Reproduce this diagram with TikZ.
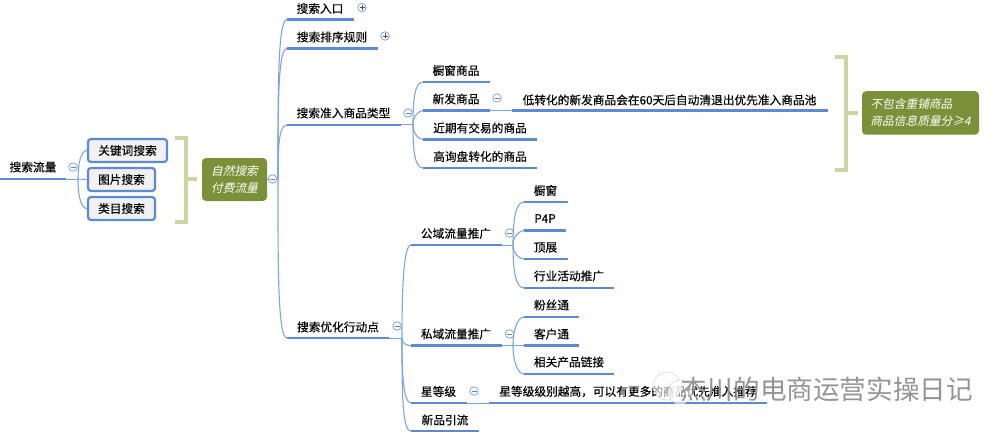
\documentclass[tikz,border=0pt]{standalone}
\usepackage{fontspec}
\setmainfont[FakeBold=.25]{Noto Sans CJK SC}
\newfontfamily\slantfont[FakeSlant=.22]{Noto Sans CJK SC}
\newfontfamily\markfont{Noto Sans CJK SC}
\definecolor{linecol}{HTML}{5B8BD3}
\definecolor{thincol}{HTML}{7CA5E2}
\definecolor{boxfill}{HTML}{F1F1F1}
\definecolor{notecol}{HTML}{7A9139}
\definecolor{bracecol}{HTML}{C8D8A0}
\tikzset{
  lab/.style={inner sep=0pt, font=\fontsize{11.7}{14}\selectfont},
  topicline/.style={draw=linecol, line width=2.8pt},
  thinline/.style={draw=thincol, line width=1pt},
  fork/.style={draw=thincol, line width=1.1pt},
  upcurve/.style={out=90, in=180, out looseness=1.4, in looseness=#1},
  downcurve/.style={out=-90, in=180, out looseness=1.4, in looseness=#1},
  tagbox/.style={draw=linecol, line width=2.2pt, fill=boxfill, rounded corners=3pt, inner sep=0pt, minimum height=23pt, font=\fontsize{11.7}{14}\selectfont},
  notebox/.style={fill=notecol, rounded corners=4pt, inner sep=0pt, text=white, font=\fontsize{11.7}{17}\slantfont},
  brace/.style={draw=bracecol, line width=4pt},
  toggle/.style={circle, draw=thincol, fill=white, line width=.8pt, minimum size=8.5pt, inner sep=0pt},
  minus/.style={draw=thincol!80!black, line width=.8pt},
  plus/.style={draw=black!70, line width=.7pt},
  logo/.style={circle, draw=black!15, fill=white, fill opacity=.6, line width=.6pt, inner sep=0pt}
}
\begin{document}
\begin{tikzpicture}[x=1pt, y=-1pt]
  \useasboundingbox (0, 0) rectangle (1006, 433);
  % left part
  \coordinate (flowL) at (0, 179);
  \coordinate (flowR) at (66, 179);
  \coordinate (flowFork) at (78, 179);
  \draw[topicline] (flowL) -- (flowR);
  \draw[thinline] (flowR) -- (flowFork);
  \node[lab] (flow) at (33, 167) {搜索流量};
  \node[tagbox, minimum width=79pt] (keyword) at (127.5, 150.5) {关键词搜索};
  \node[tagbox, minimum width=67pt] (image) at (121.5, 179.5) {图片搜索};
  \node[tagbox, minimum width=67pt] (category) at (121.5, 208.5) {类目搜索};
  \draw[fork] (flowFork) to[upcurve=.5] (keyword.west);
  \draw[fork] (flowFork) -- (image.west);
  \draw[fork] (flowFork) to[downcurve=.5] (category.west);
  \node[toggle] (flowT) at (73, 167) {};
  \draw[minus] ([xshift=-2.5pt]flowT.center) -- ([xshift=2.5pt]flowT.center);
  % first bracket
  \coordinate (brA) at (175, 138);
  \coordinate (brB) at (186, 138);
  \coordinate (brC) at (186, 222);
  \coordinate (brD) at (175, 222);
  \coordinate (brE) at (186, 179);
  \coordinate (brF) at (197, 179);
  \draw[brace] (brA) -- (brB) -- (brC) -- (brD);
  \draw[brace] (brE) -- (brF);
  \node[notebox, minimum width=65pt, minimum height=43pt, align=center] (natural) at (234.5, 179.5) {自然搜索\\付费流量};
  % trunk
  \coordinate (trunk) at (278, 179);
  \coordinate (entryL) at (287, 19.5);
  \coordinate (entryR) at (354, 19.5);
  \coordinate (rankL) at (287, 48.5);
  \coordinate (rankR) at (378, 48.5);
  \coordinate (typeL) at (287, 125);
  \coordinate (typeR) at (401, 125);
  \coordinate (optL) at (287, 338);
  \coordinate (optR) at (389, 338);
  \draw[fork] (natural.east) -- (trunk);
  \draw[fork] (trunk) to[upcurve=.15] (entryL);
  \draw[fork] (trunk) to[upcurve=.18] (rankL);
  \draw[fork] (trunk) to[upcurve=.4] (typeL);
  \draw[fork] (trunk) to[downcurve=.15] (optL);
  \draw[topicline] (entryL) -- (entryR);
  \draw[topicline] (rankL) -- (rankR);
  \draw[topicline] (typeL) -- (typeR);
  \draw[topicline] (optL) -- (optR);
  \node[lab] (entry) at (320, 8.5) {搜索入口};
  \node[lab] (rank) at (332, 37) {搜索排序规则};
  \node[lab] (type) at (343.5, 113) {搜索准入商品类型};
  \node[lab] (opt) at (338, 327) {搜索优化行动点};
  \node[toggle] (naturalT) at (272.5, 179) {};
  \draw[minus] ([xshift=-2.5pt]naturalT.center) -- ([xshift=2.5pt]naturalT.center);
  \node[toggle] (entryT) at (362, 7.5) {};
  \draw[plus] ([xshift=-2.5pt]entryT.center) -- ([xshift=2.5pt]entryT.center);
  \draw[plus] ([yshift=-2.5pt]entryT.center) -- ([yshift=2.5pt]entryT.center);
  \node[toggle] (rankT) at (385, 36) {};
  \draw[plus] ([xshift=-2.5pt]rankT.center) -- ([xshift=2.5pt]rankT.center);
  \draw[plus] ([yshift=-2.5pt]rankT.center) -- ([yshift=2.5pt]rankT.center);
  % goods types
  \coordinate (typeFork) at (413, 125);
  \coordinate (windowL) at (423, 82);
  \coordinate (windowR) at (490, 82);
  \coordinate (newL) at (423, 110.5);
  \coordinate (newR) at (490, 110.5);
  \coordinate (ruleL) at (512, 110.5);
  \coordinate (ruleR) at (828, 110.5);
  \coordinate (dealL) at (423, 139.5);
  \coordinate (dealR) at (537, 139.5);
  \coordinate (askL) at (423, 168);
  \coordinate (askR) at (537, 168);
  \draw[thinline] (typeR) -- (typeFork);
  \draw[fork] (typeFork) to[upcurve=.5] (windowL);
  \draw[fork] (typeFork) to[upcurve=.5] (newL);
  \draw[fork] (typeFork) to[downcurve=.5] (dealL);
  \draw[fork] (typeFork) to[downcurve=.5] (askL);
  \draw[thinline] (newR) -- (ruleL);
  \draw[topicline] (windowL) -- (windowR);
  \draw[topicline] (newL) -- (newR);
  \draw[topicline] (ruleL) -- (ruleR);
  \draw[topicline] (dealL) -- (dealR);
  \draw[topicline] (askL) -- (askR);
  \node[lab] (window) at (456, 70.5) {橱窗商品};
  \node[lab] (new) at (456, 99) {新发商品};
  \node[lab] (rule) at (669.5, 100) {低转化的新发商品会在60天后自动清退出优先准入商品池};
  \node[lab] (deal) at (480, 128) {近期有交易的商品};
  \node[lab] (ask) at (480, 156.5) {高询盘转化的商品};
  \node[toggle] (typeT) at (408, 113) {};
  \draw[minus] ([xshift=-2.5pt]typeT.center) -- ([xshift=2.5pt]typeT.center);
  \node[toggle] (newT) at (497, 98) {};
  \draw[minus] ([xshift=-2.5pt]newT.center) -- ([xshift=2.5pt]newT.center);
  % second bracket
  \coordinate (bsA) at (835, 57);
  \coordinate (bsB) at (846, 57);
  \coordinate (bsC) at (846, 170);
  \coordinate (bsD) at (835, 170);
  \coordinate (bsE) at (846, 113);
  \coordinate (bsF) at (858, 113);
  \draw[brace] (bsA) -- (bsB) -- (bsC) -- (bsD);
  \draw[brace] (bsE) -- (bsF);
  \node[notebox, minimum width=117pt, minimum height=43.5pt, align=left] (exclude) at (920.5, 113) {不包含重铺商品\\商品信息质量分≥4};
  % actions
  \coordinate (optFork) at (402, 338);
  \coordinate (pubL) at (411, 245);
  \coordinate (pubR) at (502, 245);
  \coordinate (priL) at (411, 345.5);
  \coordinate (priR) at (502, 345.5);
  \coordinate (starL) at (411, 403);
  \coordinate (starR) at (467, 403);
  \coordinate (tipL) at (489, 403);
  \coordinate (tipR) at (767, 403);
  \coordinate (freshL) at (411, 431);
  \coordinate (freshR) at (479, 431);
  \draw[thinline] (optR) -- (optFork);
  \draw[fork] (optFork) to[upcurve=.2] (pubL);
  \draw[fork] (optFork) to[downcurve=.7] (priL);
  \draw[fork] (optFork) to[downcurve=.3] (starL);
  \draw[fork] (optFork) to[downcurve=.25] (freshL);
  \draw[thinline] (starR) -- (tipL);
  \draw[topicline] (pubL) -- (pubR);
  \draw[topicline] (priL) -- (priR);
  \draw[topicline] (starL) -- (starR);
  \draw[topicline] (tipL) -- (tipR);
  \draw[topicline] (freshL) -- (freshR);
  \node[lab] (pub) at (456, 233.5) {公域流量推广};
  \node[lab] (pri) at (456, 334) {私域流量推广};
  \node[lab] (star) at (438.5, 391.5) {星等级};
  \node[lab] (tip) at (628, 391.5) {星等级级别越高，可以有更多的商品优先准入推荐};
  \node[lab] (fresh) at (445, 420) {新品引流};
  \node[toggle] (optT) at (397, 326) {};
  \draw[minus] ([xshift=-2.5pt]optT.center) -- ([xshift=2.5pt]optT.center);
  \node[toggle] (pubT) at (509.5, 233) {};
  \draw[minus] ([xshift=-2.5pt]pubT.center) -- ([xshift=2.5pt]pubT.center);
  \node[toggle] (priT) at (509.5, 334) {};
  \draw[minus] ([xshift=-2.5pt]priT.center) -- ([xshift=2.5pt]priT.center);
  \node[toggle] (starT) at (474, 391) {};
  \draw[minus] ([xshift=-2.5pt]starT.center) -- ([xshift=2.5pt]starT.center);
  % public traffic
  \coordinate (pubFork) at (513, 245);
  \coordinate (shopL) at (524, 202);
  \coordinate (shopR) at (568, 202);
  \coordinate (ppL) at (524, 230.5);
  \coordinate (ppR) at (566, 230.5);
  \coordinate (expoL) at (524, 259);
  \coordinate (expoR) at (568, 259);
  \coordinate (eventL) at (524, 288);
  \coordinate (eventR) at (614, 288);
  \draw[thinline] (pubR) -- (pubFork);
  \draw[fork] (pubFork) to[upcurve=.5] (shopL);
  \draw[fork] (pubFork) to[upcurve=.5] (ppL);
  \draw[fork] (pubFork) to[downcurve=.5] (expoL);
  \draw[fork] (pubFork) to[downcurve=.5] (eventL);
  \draw[topicline] (shopL) -- (shopR);
  \draw[topicline] (ppL) -- (ppR);
  \draw[topicline] (expoL) -- (expoR);
  \draw[topicline] (eventL) -- (eventR);
  \node[lab] (shop) at (545.5, 190.5) {橱窗};
  \node[lab] (pp) at (545, 218.5) {P4P};
  \node[lab] (expo) at (545.5, 247.5) {顶展};
  \node[lab] (event) at (569, 276) {行业活动推广};
  % private traffic
  \coordinate (priFork) at (513, 345.5);
  \coordinate (fansL) at (524, 317);
  \coordinate (fansR) at (579, 317);
  \coordinate (custL) at (524, 345.5);
  \coordinate (custR) at (579, 345.5);
  \coordinate (linkL) at (524, 374);
  \coordinate (linkR) at (614, 374);
  \draw[thinline] (priR) -- (custL);
  \draw[fork] (priFork) to[upcurve=.5] (fansL);
  \draw[fork] (priFork) to[downcurve=.5] (linkL);
  \draw[topicline] (fansL) -- (fansR);
  \draw[topicline] (custL) -- (custR);
  \draw[topicline] (linkL) -- (linkR);
  \node[lab] (fans) at (551.5, 305) {粉丝通};
  \node[lab] (cust) at (551.5, 334) {客户通};
  \node[lab] (link) at (569, 362) {相关产品链接};
  % watermark
  \node[logo, minimum size=28pt] (logoA) at (667, 386) {};
  \node[logo, minimum size=24pt] (logoB) at (680, 392) {};
  \node[lab, font=\fontsize{26.6}{30}\markfont, text=black!42] (mark) at (826.5, 389) {杰川的电商运营实操日记};
\end{tikzpicture}
\end{document}
